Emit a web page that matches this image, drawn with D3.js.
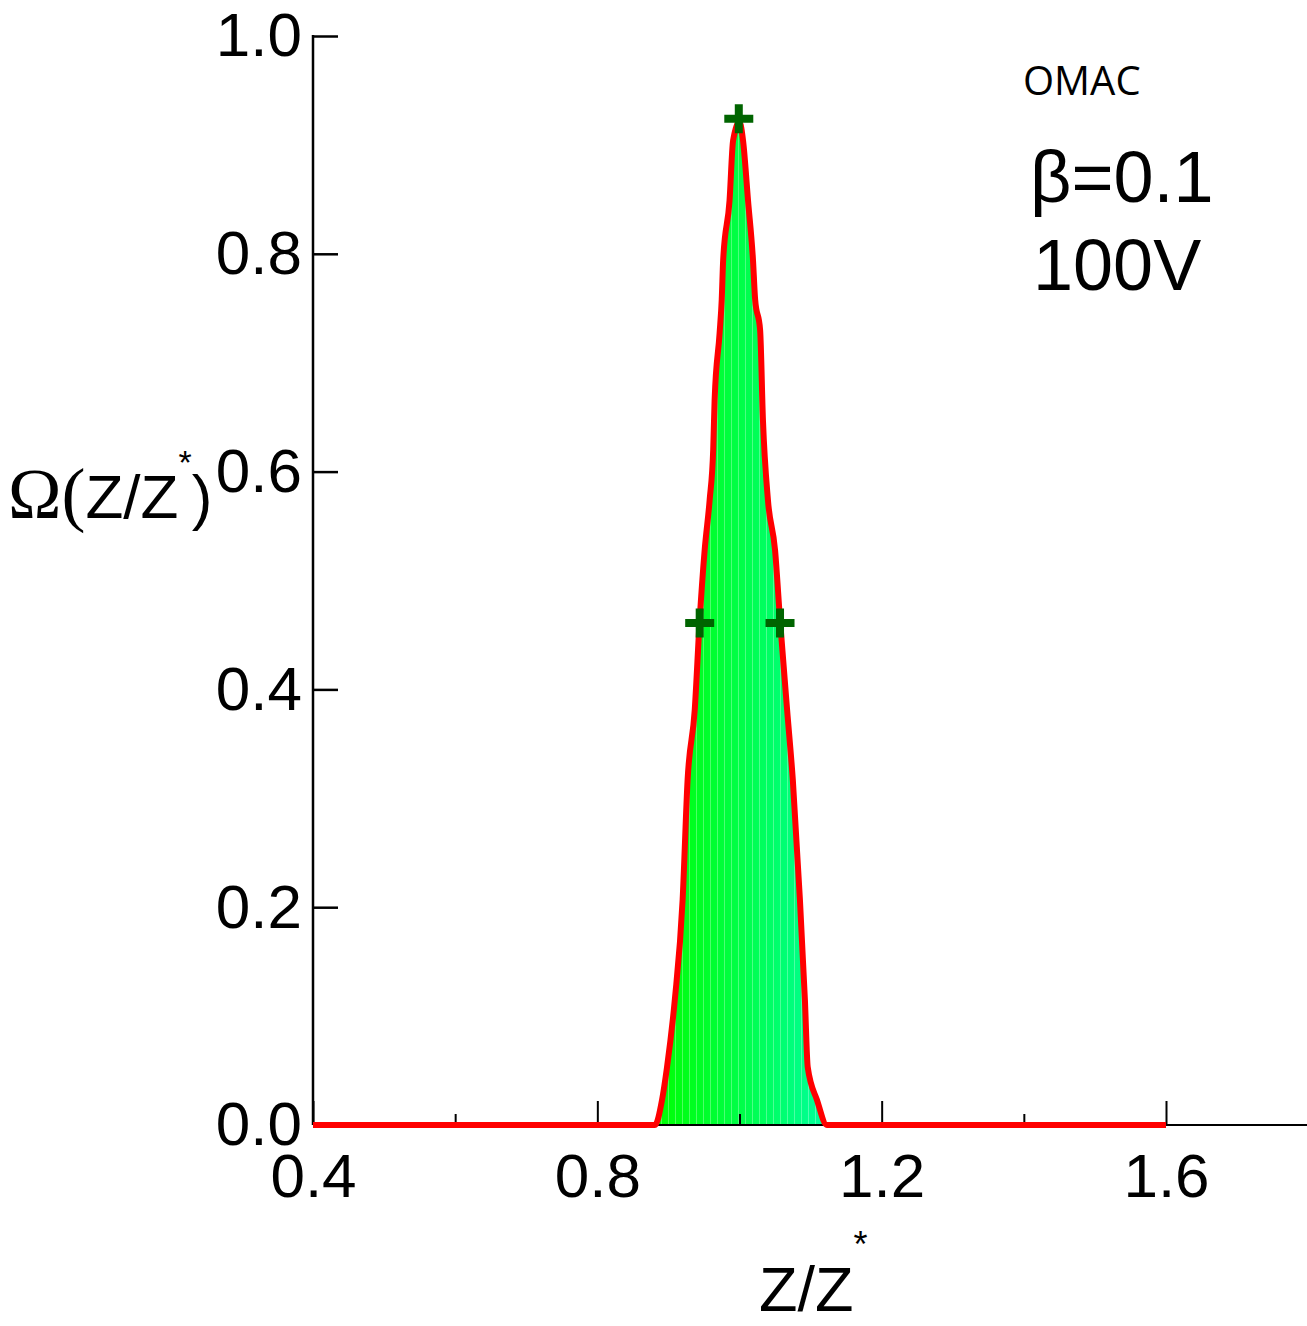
<!DOCTYPE html>
<html>
<head>
<meta charset="utf-8">
<script src="https://cdn.jsdelivr.net/npm/d3@7/dist/d3.min.js"></script>
<style>
  body { margin: 0; background: #fff; }
  svg { display: block; }
  .tick text { font-family: "Liberation Sans", Arial, sans-serif; font-size: 62px; fill: #000; }
</style>
</head>
<body>
<svg id="chart"></svg>
<script>
// data
var curveX = [0.40, 0.881, 0.891, 0.898, 0.909, 0.920, 0.927, 0.937, 0.944, 0.951, 0.958, 0.963, 0.965,
  0.972, 0.975, 0.977, 0.986, 0.991, 1.000, 1.005, 1.012, 1.019, 1.022, 1.029, 1.033, 1.040, 1.050,
  1.057, 1.067, 1.075, 1.085, 1.092, 1.096, 1.109, 1.123, 1.60];
var curveY = [0, 0, 0.023, 0.053, 0.115, 0.207, 0.317, 0.381, 0.464, 0.528, 0.574, 0.620, 0.666,
  0.727, 0.758, 0.794, 0.849, 0.904, 0.921, 0.904, 0.849, 0.794, 0.758, 0.730, 0.647, 0.574, 0.528,
  0.464, 0.381, 0.317, 0.207, 0.115, 0.053, 0.023, 0, 0];
var markerX = [0.999, 0.944, 1.057];
var markerY = [0.924, 0.461, 0.461];
var xTicks = [0.4, 0.8, 1.2, 1.6];
var xMinorTicks = [0.6, 1.0, 1.4];
var yTicks = [0, 0.2, 0.4, 0.6, 0.8, 1.0];

var width = 1307, height = 1326;
var svg = d3.select("#chart").attr("width", width).attr("height", height);

var x = d3.scaleLinear().domain([0.4, 1.6]).range([313, 1166]);
var y = d3.scaleLinear().domain([0, 1]).range([1125, 36]);

var pts = curveX.map(function (d, i) { return [d, curveY[i]]; });

// fill gradient
var defs = svg.append("defs");
var grad = defs.append("linearGradient")
  .attr("id", "fillGrad")
  .attr("gradientUnits", "userSpaceOnUse")
  .attr("x1", x(0.88)).attr("x2", x(1.125))
  .attr("y1", 0).attr("y2", 0);
grad.append("stop").attr("offset", "0%").attr("stop-color", "#00ff00");
grad.append("stop").attr("offset", "50%").attr("stop-color", "#00ff48");
grad.append("stop").attr("offset", "100%").attr("stop-color", "#00ffa0");

var stripes = defs.append("pattern")
  .attr("id", "stripes")
  .attr("patternUnits", "userSpaceOnUse")
  .attr("width", 7).attr("height", 10);
stripes.append("rect").attr("x", 3).attr("width", 1).attr("height", 10)
  .attr("fill", "#fff").attr("opacity", 0.3);

var area = d3.area()
  .curve(d3.curveMonotoneX)
  .x(function (d) { return x(d[0]); })
  .y0(y(0))
  .y1(function (d) { return y(d[1]); });

svg.append("path").datum(pts).attr("d", area).attr("fill", "url(#fillGrad)");
svg.append("path").datum(pts).attr("d", area).attr("fill", "url(#stripes)");

// x axis
var xAxisG = svg.append("g")
  .attr("transform", "translate(0," + y(0) + ")")
  .call(d3.axisBottom(x).tickValues(xTicks).tickSize(-24).tickPadding(28)
    .tickFormat(d3.format(".1f")));
xAxisG.select(".domain").remove();
xAxisG.selectAll(".tick line").attr("stroke", "#000").attr("stroke-width", 2);

var xMinorG = svg.append("g")
  .attr("transform", "translate(0," + y(0) + ")")
  .call(d3.axisBottom(x).tickValues(xMinorTicks).tickSize(-11).tickFormat(""));
xMinorG.select(".domain").remove();
xMinorG.selectAll(".tick line").attr("stroke", "#000").attr("stroke-width", 2);

svg.append("line")
  .attr("x1", 313).attr("x2", width)
  .attr("y1", y(0)).attr("y2", y(0))
  .attr("stroke", "#000").attr("stroke-width", 2);

// y axis
var yAxisG = svg.append("g")
  .attr("transform", "translate(" + x(0.4) + ",0)")
  .call(d3.axisLeft(y).tickValues(yTicks).tickSize(-25).tickPadding(11)
    .tickFormat(d3.format(".1f")));
yAxisG.select(".domain").remove();
yAxisG.selectAll(".tick line").attr("stroke", "#000").attr("stroke-width", 2.5);

svg.append("line")
  .attr("x1", x(0.4)).attr("x2", x(0.4))
  .attr("y1", y(0)).attr("y2", y(1) - 1)
  .attr("stroke", "#000").attr("stroke-width", 2.5);

// red curve
var line = d3.line()
  .curve(d3.curveMonotoneX)
  .x(function (d) { return x(d[0]); })
  .y(function (d) { return y(d[1]); });

svg.append("path").datum(pts)
  .attr("d", line)
  .attr("fill", "none")
  .attr("stroke", "#ff0000")
  .attr("stroke-width", 6)
  .attr("stroke-linejoin", "round");

// cross markers
svg.selectAll(".mark")
  .data(markerX)
  .join("path")
  .attr("class", "mark")
  .attr("transform", function (d, i) { return "translate(" + x(d) + "," + y(markerY[i]) + ")"; })
  .attr("d", "M-14.5,0H14.5M0,-14.5V14.5")
  .attr("stroke", "#006400")
  .attr("stroke-width", 8)
  .attr("fill", "none");

// axis titles
var xt = svg.append("text")
  .attr("x", 759).attr("y", 1311)
  .attr("font-family", "Liberation Sans, Arial, sans-serif")
  .attr("font-size", 63);
xt.append("tspan").text("Z/Z");
xt.append("tspan").attr("dy", -54).attr("font-size", 36).text("*");

var yt = svg.append("text")
  .attr("x", 8).attr("y", 518)
  .attr("font-family", "Liberation Sans, Arial, sans-serif")
  .attr("font-size", 62);
yt.append("tspan").attr("font-family", "Liberation Serif, Times New Roman, serif").attr("font-size", 72).text("Ω(");
yt.append("tspan").text("Z/Z");
yt.append("tspan").attr("dy", -44).attr("font-size", 34).text("*");
yt.append("tspan").attr("dy", 44).attr("font-size", 62).text(")");

// annotations
svg.append("text")
  .attr("x", 1023).attr("y", 95)
  .attr("font-family", "Open Sans, sans-serif")
  .attr("font-size", 40)
  .text("OMAC");

svg.append("text")
  .attr("x", 1030).attr("y", 202)
  .attr("font-family", "Liberation Sans, Arial, sans-serif")
  .attr("font-size", 72)
  .text("β=0.1");

svg.append("text")
  .attr("x", 1033).attr("y", 290)
  .attr("font-family", "Liberation Sans, Arial, sans-serif")
  .attr("font-size", 72)
  .text("100V");
</script>
</body>
</html>
